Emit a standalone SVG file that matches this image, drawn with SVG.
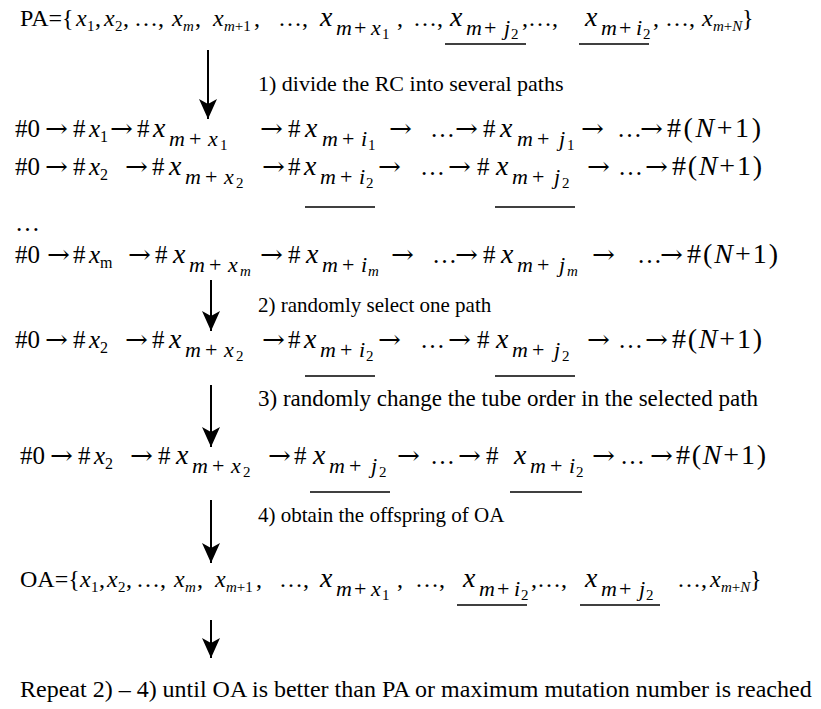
<svg xmlns="http://www.w3.org/2000/svg" width="821" height="709" viewBox="0 0 821 709">
<style>
text{font-family:"Liberation Serif","Times New Roman",serif;fill:#000}
.m{font-size:25px}
.a{font-family:"DejaVu Serif",serif;font-size:25px}
.r1{font-size:24px}
.i{font-style:italic}
.bx{font-size:28px;font-style:italic}
.sb{font-size:22px}
.ss{font-size:15px}
.sm{font-size:16px}
.nn{font-size:28px}
.lb{font-size:22px}
.ul{stroke:#000;stroke-width:1.6}
.cn{stroke:#000;stroke-width:2;fill:none;marker-end:url(#ah)}
</style>
<defs>
<marker id="ah" markerUnits="userSpaceOnUse" markerWidth="22" markerHeight="22" refX="20" refY="10" orient="auto" viewBox="0 0 22 20">
<path d="M20,10 L0,1 L5,10 L0,19 Z" fill="#000"/>
</marker>
</defs>
<rect width="821" height="709" fill="#fff"/>

<g id="pa">
<text class="r1" x="20" y="26">PA={</text>
<text class="r1 i" x="76" y="26">x</text><text class="ss" x="87" y="31">1</text><text class="r1" x="95" y="26">,</text>
<text class="r1 i" x="104" y="26">x</text><text class="ss" x="115" y="31">2</text><text class="r1" x="123" y="26">,</text>
<text class="r1" x="134" y="26">…,</text>
<text class="r1 i" x="172" y="26">x</text><text class="ss i" x="183" y="31">m</text><text class="r1" x="195" y="26">,</text>
<text class="r1 i" x="213" y="26">x</text><text class="ss" x="224" y="31"><tspan class="i">m</tspan>+1</text><text class="r1" x="254" y="26">,</text>
<text class="r1" x="278" y="26">…,</text>
<text class="bx" x="320" y="26">x</text><text class="sb" y="35"><tspan class="i" x="336">m</tspan><tspan x="354">+</tspan><tspan class="i" x="371">x</tspan></text><text class="ss" x="382" y="39">1</text>
<text class="r1" x="397" y="26">,</text>
<text class="r1" x="413" y="26">…,</text>
<text class="bx" x="450" y="26">x</text><text class="sb" y="35"><tspan class="i" x="466">m</tspan><tspan x="484">+</tspan><tspan class="i" x="504">j</tspan></text><text class="ss" x="511" y="39">2</text>
<line class="ul" x1="445" y1="44" x2="526" y2="44"/>
<text class="r1" x="522" y="26">,…,</text>
<text class="bx" x="585" y="26">x</text><text class="sb" y="35"><tspan class="i" x="601">m</tspan><tspan x="619">+</tspan><tspan class="i" x="636">i</tspan></text><text class="ss" x="643" y="39">2</text>
<line class="ul" x1="579" y1="44" x2="649" y2="44"/>
<text class="r1" x="653" y="26">, …,</text>
<text class="r1 i" x="702" y="26">x</text><text class="ss" x="713" y="31"><tspan class="i">m</tspan>+<tspan class="i">N</tspan></text><text class="r1" x="742" y="26">}</text>
</g>

<g id="path1">
<text class="m" x="15" y="137">#0</text><text class="a" transform="translate(45 137) scale(1.1 1)">→</text><text class="m" x="73" y="137">#</text>
<text class="m i" x="89" y="137">x</text><text class="sm" x="100" y="142">1</text>
<text class="a" transform="translate(110 137) scale(1.1 1)">→</text><text class="m" x="137" y="137">#</text>
<text class="bx" x="153" y="137">x</text><text class="sb" y="146"><tspan class="i" x="169">m</tspan><tspan x="189">+</tspan><tspan class="i" x="208">x</tspan></text><text class="ss" x="220" y="150">1</text>
<text class="a" transform="translate(260 137) scale(1.1 1)">→</text><text class="m" x="288" y="137">#</text>
<text class="bx" x="305" y="137">x</text><text class="sb" y="146"><tspan class="i" x="322">m</tspan><tspan x="342">+</tspan><tspan class="i" x="361">i</tspan></text><text class="ss" x="368" y="150">1</text>
<text class="a" transform="translate(389 137) scale(1.1 1)">→</text><text class="m" x="430" y="137">…</text><text class="a" transform="translate(455 137) scale(1.1 1)">→</text><text class="m" x="483" y="137">#</text>
<text class="bx" x="500" y="137">x</text><text class="sb" y="146"><tspan class="i" x="517">m</tspan><tspan x="537">+</tspan><tspan class="i" x="559">j</tspan></text><text class="ss" x="567" y="150">1</text>
<text class="a" transform="translate(581 137) scale(1.1 1)">→</text><text class="m" x="617" y="137">…</text><text class="a" transform="translate(640 137) scale(1.1 1)">→</text>
<text class="nn" x="667" y="137" textLength="94" lengthAdjust="spacing">#(<tspan class="i">N</tspan>+1)</text>
</g>

<g id="path2">
<text class="m" x="15" y="175">#0</text><text class="a" transform="translate(45 175) scale(1.1 1)">→</text><text class="m" x="73" y="175">#</text>
<text class="m i" x="89" y="175">x</text><text class="sm" x="100" y="180">2</text>
<text class="a" transform="translate(125 175) scale(1.1 1)">→</text><text class="m" x="152" y="175">#</text>
<text class="bx" x="169" y="175">x</text><text class="sb" y="184"><tspan class="i" x="185">m</tspan><tspan x="205">+</tspan><tspan class="i" x="224">x</tspan></text><text class="ss" x="236" y="188">2</text>
<text class="a" transform="translate(262 175) scale(1.1 1)">→</text><text class="m" x="288" y="175">#</text>
<text class="bx" x="304" y="175">x</text><text class="sb" y="184"><tspan class="i" x="320">m</tspan><tspan x="340">+</tspan><tspan class="i" x="359">i</tspan></text><text class="ss" x="366" y="188">2</text>
<line class="ul" x1="305" y1="207" x2="375" y2="207"/>
<text class="a" transform="translate(378 175) scale(1.1 1)">→</text><text class="m" x="420" y="175">…</text><text class="a" transform="translate(448 175) scale(1.1 1)">→</text><text class="m" x="477" y="175">#</text>
<text class="bx" x="496" y="175">x</text><text class="sb" y="184"><tspan class="i" x="512">m</tspan><tspan x="532">+</tspan><tspan class="i" x="554">j</tspan></text><text class="ss" x="562" y="188">2</text>
<line class="ul" x1="495" y1="207" x2="575" y2="207"/>
<text class="a" transform="translate(587 175) scale(1.1 1)">→</text><text class="m" x="618" y="175">…</text><text class="a" transform="translate(645 175) scale(1.1 1)">→</text>
<text class="nn" x="672" y="175" textLength="90" lengthAdjust="spacing">#(<tspan class="i">N</tspan>+1)</text>
</g>

<g id="dots">
<text class="m" x="15" y="231">…</text>
</g>

<g id="pathm">
<text class="m" x="15" y="263">#0</text><text class="a" transform="translate(47 263) scale(1.1 1)">→</text><text class="m" x="73" y="263">#</text>
<text class="m i" x="89" y="263">x</text><text class="sm" x="100" y="268">m</text>
<text class="a" transform="translate(128 263) scale(1.1 1)">→</text><text class="m" x="155" y="263">#</text>
<text class="bx" x="173" y="263">x</text><text class="sb" y="272"><tspan class="i" x="189">m</tspan><tspan x="209">+</tspan><tspan class="i" x="228">x</tspan></text><text class="ss i" x="240" y="276">m</text>
<text class="a" transform="translate(260 263) scale(1.1 1)">→</text><text class="m" x="288" y="263">#</text>
<text class="bx" x="306" y="263">x</text><text class="sb" y="272"><tspan class="i" x="322">m</tspan><tspan x="342">+</tspan><tspan class="i" x="361">i</tspan></text><text class="ss i" x="368" y="276">m</text>
<text class="a" transform="translate(391 263) scale(1.1 1)">→</text><text class="m" x="432" y="263">…</text><text class="a" transform="translate(455 263) scale(1.1 1)">→</text><text class="m" x="483" y="263">#</text>
<text class="bx" x="501" y="263">x</text><text class="sb" y="272"><tspan class="i" x="517">m</tspan><tspan x="537">+</tspan><tspan class="i" x="559">j</tspan></text><text class="ss i" x="567" y="276">m</text>
<text class="a" transform="translate(592 263) scale(1.1 1)">→</text><text class="m" x="637" y="263">…</text><text class="a" transform="translate(660 263) scale(1.1 1)">→</text>
<text class="nn" x="687" y="263" textLength="91" lengthAdjust="spacing">#(<tspan class="i">N</tspan>+1)</text>
</g>

<g id="selected">
<text class="m" x="15" y="348">#0</text><text class="a" transform="translate(45 348) scale(1.1 1)">→</text><text class="m" x="73" y="348">#</text>
<text class="m i" x="89" y="348">x</text><text class="sm" x="100" y="353">2</text>
<text class="a" transform="translate(125 348) scale(1.1 1)">→</text><text class="m" x="152" y="348">#</text>
<text class="bx" x="169" y="348">x</text><text class="sb" y="357"><tspan class="i" x="185">m</tspan><tspan x="205">+</tspan><tspan class="i" x="224">x</tspan></text><text class="ss" x="236" y="361">2</text>
<text class="a" transform="translate(262 348) scale(1.1 1)">→</text><text class="m" x="288" y="348">#</text>
<text class="bx" x="304" y="348">x</text><text class="sb" y="357"><tspan class="i" x="320">m</tspan><tspan x="340">+</tspan><tspan class="i" x="359">i</tspan></text><text class="ss" x="366" y="361">2</text>
<line class="ul" x1="305" y1="376" x2="375" y2="376"/>
<text class="a" transform="translate(378 348) scale(1.1 1)">→</text><text class="m" x="420" y="348">…</text><text class="a" transform="translate(448 348) scale(1.1 1)">→</text><text class="m" x="477" y="348">#</text>
<text class="bx" x="496" y="348">x</text><text class="sb" y="357"><tspan class="i" x="512">m</tspan><tspan x="532">+</tspan><tspan class="i" x="554">j</tspan></text><text class="ss" x="562" y="361">2</text>
<line class="ul" x1="495" y1="376" x2="575" y2="376"/>
<text class="a" transform="translate(587 348) scale(1.1 1)">→</text><text class="m" x="618" y="348">…</text><text class="a" transform="translate(645 348) scale(1.1 1)">→</text>
<text class="nn" x="672" y="348" textLength="90" lengthAdjust="spacing">#(<tspan class="i">N</tspan>+1)</text>
</g>

<g id="changed">
<text class="m" x="20" y="464">#0</text><text class="a" transform="translate(50 464) scale(1.1 1)">→</text><text class="m" x="78" y="464">#</text>
<text class="m i" x="94" y="464">x</text><text class="sm" x="105" y="469">2</text>
<text class="a" transform="translate(130 464) scale(1.1 1)">→</text><text class="m" x="158" y="464">#</text>
<text class="bx" x="176" y="464">x</text><text class="sb" y="473"><tspan class="i" x="192">m</tspan><tspan x="212">+</tspan><tspan class="i" x="231">x</tspan></text><text class="ss" x="243" y="477">2</text>
<text class="a" transform="translate(268 464) scale(1.1 1)">→</text><text class="m" x="294" y="464">#</text>
<text class="bx" x="313" y="464">x</text><text class="sb" y="473"><tspan class="i" x="329">m</tspan><tspan x="349">+</tspan><tspan class="i" x="371">j</tspan></text><text class="ss" x="379" y="477">2</text>
<line class="ul" x1="310" y1="492" x2="390" y2="492"/>
<text class="a" transform="translate(397 464) scale(1.1 1)">→</text><text class="m" x="430" y="464">…</text><text class="a" transform="translate(458 464) scale(1.1 1)">→</text><text class="m" x="486" y="464">#</text>
<text class="bx" x="514" y="464">x</text><text class="sb" y="473"><tspan class="i" x="530">m</tspan><tspan x="550">+</tspan><tspan class="i" x="569">i</tspan></text><text class="ss" x="576" y="477">2</text>
<line class="ul" x1="510" y1="492" x2="582" y2="492"/>
<text class="a" transform="translate(592 464) scale(1.1 1)">→</text><text class="m" x="620" y="464">…</text><text class="a" transform="translate(650 464) scale(1.1 1)">→</text>
<text class="nn" x="676" y="464" textLength="90" lengthAdjust="spacing">#(<tspan class="i">N</tspan>+1)</text>
</g>

<g id="oa">
<text class="r1" x="20" y="587">OA={</text>
<text class="r1 i" x="80" y="587">x</text><text class="ss" x="91" y="592">1</text><text class="r1" x="99" y="587">,</text>
<text class="r1 i" x="107" y="587">x</text><text class="ss" x="118" y="592">2</text><text class="r1" x="126" y="587">,</text>
<text class="r1" x="136" y="587">…,</text>
<text class="r1 i" x="174" y="587">x</text><text class="ss i" x="185" y="592">m</text><text class="r1" x="197" y="587">,</text>
<text class="r1 i" x="215" y="587">x</text><text class="ss" x="226" y="592"><tspan class="i">m</tspan>+1</text><text class="r1" x="256" y="587">,</text>
<text class="r1" x="279" y="587">…,</text>
<text class="bx" x="320" y="587">x</text><text class="sb" y="596"><tspan class="i" x="336">m</tspan><tspan x="354">+</tspan><tspan class="i" x="371">x</tspan></text><text class="ss" x="382" y="600">1</text>
<text class="r1" x="397" y="587">,</text>
<text class="r1" x="415" y="587">…,</text>
<text class="bx" x="463" y="587">x</text><text class="sb" y="596"><tspan class="i" x="479">m</tspan><tspan x="497">+</tspan><tspan class="i" x="514">i</tspan></text><text class="ss" x="521" y="600">2</text>
<line class="ul" x1="457" y1="605" x2="527" y2="605"/>
<text class="r1" x="531" y="587">,…,</text>
<text class="bx" x="585" y="587">x</text><text class="sb" y="596"><tspan class="i" x="601">m</tspan><tspan x="619">+</tspan><tspan class="i" x="639">j</tspan></text><text class="ss" x="646" y="600">2</text>
<line class="ul" x1="580" y1="605" x2="660" y2="605"/>
<text class="r1" x="677" y="587">…,</text>
<text class="r1 i" x="710" y="587">x</text><text class="ss" x="721" y="592"><tspan class="i">m</tspan>+<tspan class="i">N</tspan></text><text class="r1" x="750" y="587">}</text>
</g>

<g id="labels">
<text class="lb" x="258" y="91">1) divide the RC into several paths</text>
<text class="lb" x="258" y="312" style="font-size:21px">2) randomly select one path</text>
<text class="lb" x="258" y="406" style="font-size:23px">3) randomly change the tube order in the selected path</text>
<text class="lb" x="258" y="522" style="font-size:21px">4) obtain the offspring of OA</text>
<text class="lb" x="20" y="697" style="font-size:24px">Repeat 2) – 4) until OA is better than PA or maximum mutation number is reached</text>
</g>

<g id="connectors">
<line class="cn" x1="208" y1="50" x2="208" y2="119"/>
<line class="cn" x1="211" y1="280" x2="211" y2="331"/>
<line class="cn" x1="211" y1="385" x2="211" y2="447"/>
<line class="cn" x1="211" y1="500" x2="211" y2="563"/>
<line class="cn" x1="211" y1="620" x2="211" y2="658"/>
</g>
</svg>
